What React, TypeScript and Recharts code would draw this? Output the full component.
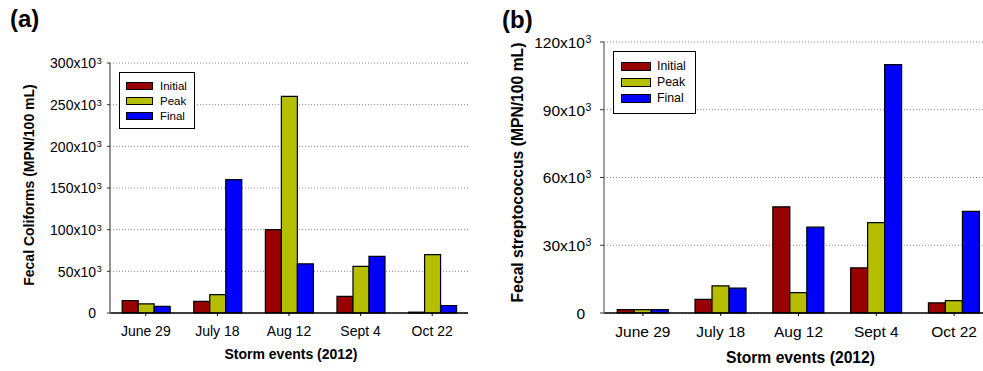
import React from 'react';
import { BarChart, Bar, XAxis, YAxis, CartesianGrid, Legend } from 'recharts';

// storm events (shared by both panels)
const stormEvents = ['June 29', 'July 18', 'Aug 12', 'Sept 4', 'Oct 22'];
const seriesNames = ['Initial', 'Peak', 'Final'];

// (a) fecal coliforms, MPN/100 mL
const coliformInitial = [15000, 14000, 100000, 20000, 1000];
const coliformPeak = [11000, 22000, 260000, 56000, 70000];
const coliformFinal = [8000, 160000, 59000, 68000, 9000];
const coliformTicks = [0, 50000, 100000, 150000, 200000, 250000, 300000];

// (b) fecal streptococcus, MPN/100 mL
const streptInitial = [1500, 6000, 47000, 20000, 4500];
const streptPeak = [1500, 12000, 9000, 40000, 5500];
const streptFinal = [1500, 11000, 38000, 110000, 45000];
const streptTicks = [0, 30000, 60000, 90000, 120000];

const COLORS = { initial: '#990000', peak: '#b6be00', final: '#0000ff' };
const FONT = '"Liberation Sans", Arial, Helvetica, sans-serif';

type LegendLayout = {
  left: number; top: number; width: number; height: number;
  pad: number; swW: number; swH: number; firstRow: number; rowGap: number; textX: number; fs: number;
};

type Layout = {
  left: number; width: number; height: number;
  plotLeft: number; plotRight: number; plotTop: number; plotBottom: number;
  fs: number; titleFs: number; tickSize: number; tickMargin: number;
  catDy: number; xTitleDy: number; yTitleX: number; yTitleDy: number;
  axisColor: string; frameColor: string; frameWidth: number;
  legend: LegendLayout;
};

const layoutA: Layout = {
  left: 0, width: 490, height: 371,
  plotLeft: 110, plotRight: 468, plotTop: 63, plotBottom: 313,
  fs: 14, titleFs: 14, tickSize: 3, tickMargin: 11,
  catDy: 20, xTitleDy: 46, yTitleX: 34, yTitleDy: -3,
  axisColor: '#6e6e6e', frameColor: '#000', frameWidth: 1,
  legend: { left: 119, top: 72, width: 76, height: 57, pad: 7, swW: 27, swH: 8, firstRow: 14, rowGap: 15, textX: 41, fs: 11.5 },
};

const layoutB: Layout = {
  left: 490, width: 510, height: 371,
  plotLeft: 114, plotRight: 503, plotTop: 42, plotBottom: 313,
  fs: 15.5, titleFs: 15.7, tickSize: 4, tickMargin: 15,
  catDy: 21, xTitleDy: 50, yTitleX: 33, yTitleDy: -5,
  axisColor: '#808080', frameColor: '#808080', frameWidth: 1.5,
  legend: { left: 123, top: 51, width: 83, height: 63, pad: 8, swW: 30, swH: 9, firstRow: 15, rowGap: 16, textX: 44, fs: 12.3 },
};

const PowerTick = (props: any) => {
  const { x, y, payload, fs } = props;
  const v = payload.value as number;
  const base = y + fs * 0.38;
  if (v === 0) {
    return <text x={x} y={base} textAnchor="end" fontSize={fs} fill="#000">0</text>;
  }
  return (
    <g>
      <text x={x} y={base} textAnchor="end" fontSize={fs} fill="#000">{`${v / 1000}x10`}</text>
      <text x={x + 0.5} y={base - fs * 0.32} textAnchor="start" fontSize={fs * 0.68} fill="#000">3</text>
    </g>
  );
};

const CategoryTick = (props: any) => {
  const { x, y, payload, fs, dy } = props;
  return <text x={x} y={y + dy} textAnchor="middle" fontSize={fs} fill="#000">{payload.value}</text>;
};

const LegendBox = ({ payload, lg }: { payload?: any[]; lg: LegendLayout }) => {
  // keep the series order (Initial, Peak, Final) instead of the alphabetical default
  const items = [...(payload || [])].sort((a, b) => seriesNames.indexOf(a.value) - seriesNames.indexOf(b.value));
  return (
    <div style={{
      width: lg.width, height: lg.height, boxSizing: 'border-box', border: '1px solid #000',
      background: '#fff', position: 'relative', fontFamily: FONT,
    }}>
      {items.map((entry, i) => {
        const rowY = lg.firstRow + i * lg.rowGap - 1;
        return (
          <React.Fragment key={entry.value}>
            <div style={{
              position: 'absolute', left: lg.pad - 1, top: rowY - lg.swH / 2, width: lg.swW, height: lg.swH,
              boxSizing: 'border-box', border: '1px solid #000', background: entry.color,
            }} />
            <div style={{
              position: 'absolute', left: lg.textX - 1, top: rowY - 8, height: 16, lineHeight: '16px',
              fontSize: lg.fs, color: '#000', whiteSpace: 'nowrap',
            }}>{entry.value}</div>
          </React.Fragment>
        );
      })}
    </div>
  );
};

type PanelProps = {
  lay: Layout; yTitle: string; initial: number[]; peak: number[]; final: number[]; ticks: number[];
};

const Panel = ({ lay, yTitle, initial, peak, final, ticks }: PanelProps) => {
  const data = stormEvents.map((event, i) => ({ event, initial: initial[i], peak: peak[i], final: final[i] }));
  const lg = lay.legend;
  return (
    <div style={{ position: 'absolute', left: lay.left, top: 0 }}>
      <BarChart
        width={lay.width}
        height={lay.height}
        data={data}
        margin={{ top: lay.plotTop, right: lay.width - lay.plotRight, bottom: 0, left: 0 }}
        barCategoryGap="17%"
        barGap={0}
      >
        <CartesianGrid vertical={false} stroke="#8a8a8a" strokeDasharray="1 2" />
        <XAxis
          dataKey="event"
          interval={0}
          height={lay.height - lay.plotBottom}
          axisLine={{ stroke: '#000', strokeWidth: 1.5 }}
          tickLine={{ stroke: '#000' }}
          tickSize={3}
          tickMargin={0}
          tick={(p: any) => <CategoryTick {...p} fs={lay.fs} dy={lay.catDy} />}
          label={{
            content: (p: any) => {
              const vb = p.viewBox;
              return (
                <text x={vb.x + vb.width / 2 + 2} y={vb.y + lay.xTitleDy} textAnchor="middle"
                  fontSize={lay.titleFs} fontWeight="bold" fill="#000">Storm events (2012)</text>
              );
            },
          }}
        />
        <XAxis xAxisId="top" orientation="top" dataKey="event" height={0} tick={false} tickLine={false}
          axisLine={{ stroke: lay.frameColor, strokeWidth: lay.frameWidth }} />
        <YAxis
          domain={[0, ticks[ticks.length - 1]]}
          ticks={ticks}
          interval={0}
          width={lay.plotLeft}
          axisLine={{ stroke: lay.axisColor, strokeWidth: 1.5 }}
          tickLine={{ stroke: '#333' }}
          tickSize={lay.tickSize}
          tickMargin={lay.tickMargin}
          tick={(p: any) => <PowerTick {...p} fs={lay.fs} />}
          label={{
            content: (p: any) => {
              const vb = p.viewBox;
              const cx = vb.x + lay.yTitleX;
              const cy = vb.y + vb.height / 2 + lay.yTitleDy;
              return (
                <text x={cx} y={cy} transform={`rotate(-90 ${cx} ${cy})`} textAnchor="middle"
                  fontSize={lay.titleFs} fontWeight="bold" fill="#000">{yTitle}</text>
              );
            },
          }}
        />
        <YAxis yAxisId="right" orientation="right" width={0} domain={[0, 1]} tick={false} tickLine={false}
          axisLine={{ stroke: lay.frameColor, strokeWidth: lay.frameWidth }} />
        <Legend
          layout="horizontal"
          verticalAlign="middle"
          align="center"
          wrapperStyle={{ left: lg.left, top: lg.top, width: lg.width, height: lg.height }}
          content={(p: any) => <LegendBox payload={p.payload} lg={lg} />}
        />
        <Bar dataKey="initial" name="Initial" fill={COLORS.initial} stroke="#000" strokeWidth={1.2} isAnimationActive={false} />
        <Bar dataKey="peak" name="Peak" fill={COLORS.peak} stroke="#000" strokeWidth={1.2} isAnimationActive={false} />
        <Bar dataKey="final" name="Final" fill={COLORS.final} stroke="#000" strokeWidth={1.2} isAnimationActive={false} />
      </BarChart>
    </div>
  );
};

export default function App() {
  return (
    <div style={{
      position: 'absolute', left: 0, top: 0, width: 983, height: 371, overflow: 'hidden',
      background: '#fff', fontFamily: FONT,
    }}>
      <Panel lay={layoutA} yTitle="Fecal Coliforms (MPN/100 mL)"
        initial={coliformInitial} peak={coliformPeak} final={coliformFinal} ticks={coliformTicks} />
      <Panel lay={layoutB} yTitle="Fecal streptococcus (MPN/100 mL)"
        initial={streptInitial} peak={streptPeak} final={streptFinal} ticks={streptTicks} />
      <svg width={983} height={371} style={{ position: 'absolute', left: 0, top: 0, pointerEvents: 'none' }}>
        <text x={10} y={27} fontSize={24} fontWeight="bold" fill="#000">(a)</text>
        <text x={502} y={28} fontSize={24} fontWeight="bold" fill="#000">(b)</text>
      </svg>
    </div>
  );
}
